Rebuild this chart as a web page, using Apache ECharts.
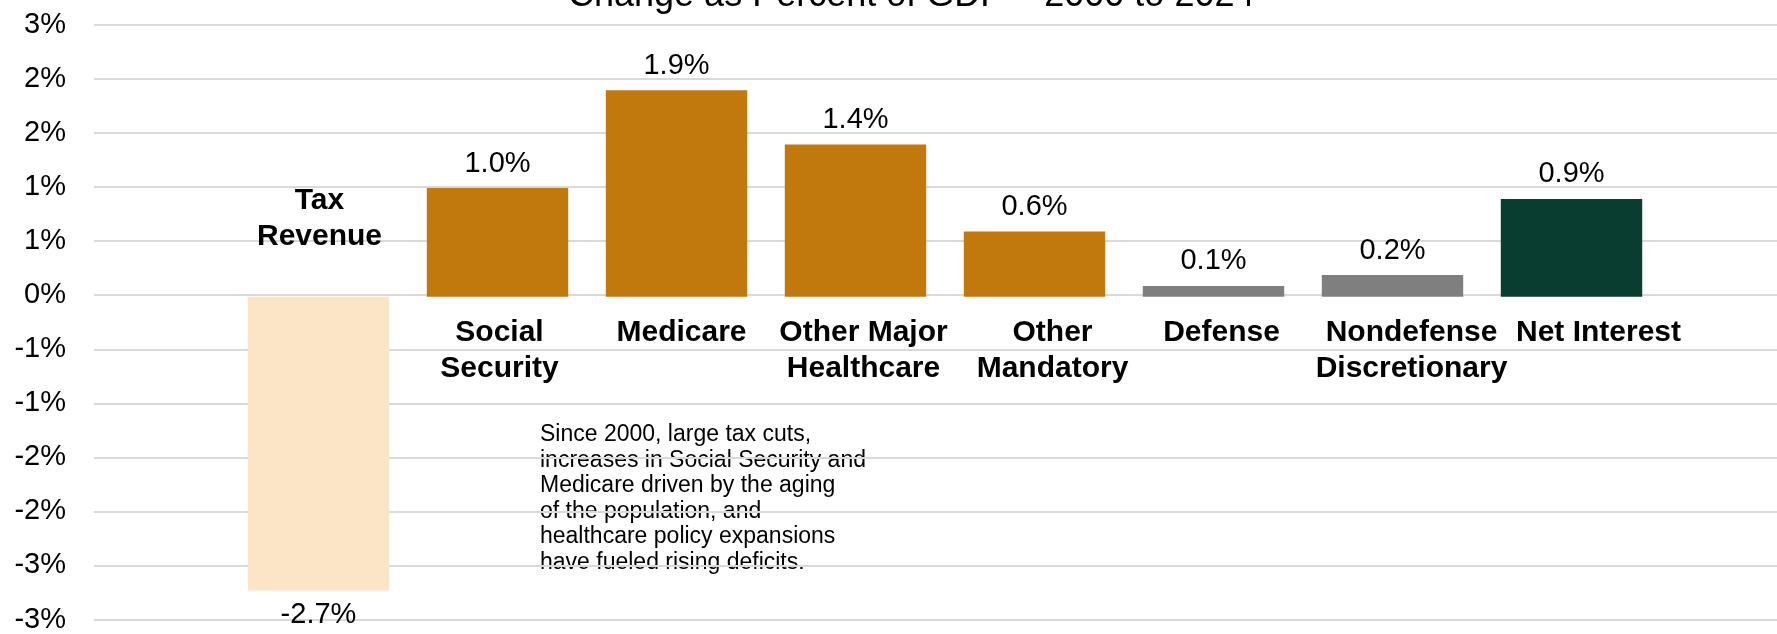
<!DOCTYPE html>
<html>
<head>
<meta charset="utf-8">
<script src="https://cdn.jsdelivr.net/npm/echarts@6/dist/echarts.min.js"></script>
<style>
  html, body { margin: 0; padding: 0; background: #ffffff; }
  #chart { width: 1777px; height: 634px; }
</style>
</head>
<body>
<div id="chart"></div>
<script>
// Budget components: change as percent of GDP, 2000 to 2024
const categories = ['Tax\nRevenue', 'Social\nSecurity', 'Medicare', 'Other Major\nHealthcare',
  'Other\nMandatory', 'Defense', 'Nondefense\nDiscretionary', 'Net Interest'];
const changePct = [-2.7, 1.0, 1.9, 1.4, 0.6, 0.1, 0.2, 0.9];
const barColors = ['#FCE4C6', '#C1780C', '#C1780C', '#C1780C', '#C1780C', '#7F7F7F', '#7F7F7F', '#093D30'];
const yMin = -3, yMax = 2.5, yStep = 0.5;
const titleText = 'Change as Percent of GDP \u2013 2000 to 2024';
const noteText = 'Since 2000, large tax cuts,\nincreases in Social Security and\nMedicare driven by the aging\nof the population, and\nhealthcare policy expansions\nhave fueled rising deficits.';

const FONT = "'Liberation Sans', Arial, sans-serif";
// small horizontal nudges (px) for the category name labels
const nameNudge = [1, 2, 5, 8, 18, 8, 19, 27];

// Whole-percent tick labels, halves rounded away from zero
function pctTick(v) {
  const r = Math.round(Math.abs(v));
  return (v < 0 && r !== 0 ? '-' : '') + r + '%';
}

const chart = echarts.init(document.getElementById('chart'), null, { renderer: 'canvas' });

chart.setOption({
  backgroundColor: '#ffffff',
  animation: false,
  title: {
    text: titleText,
    left: 563,
    top: -27,
    textStyle: { fontFamily: FONT, fontSize: 36, fontWeight: 'normal', color: '#000000' }
  },
  grid: [
    // full-width grid carrying the gridlines and percent labels
    { left: 94, right: 0, top: 25, bottom: 11 },
    // grid holding the bars
    { left: 229, right: 116, top: 25, bottom: 11 }
  ],
  xAxis: [
    { gridIndex: 0, type: 'value', show: false, min: 0, max: 1 },
    {
      gridIndex: 1, type: 'category', data: categories,
      axisLine: { show: false }, axisTick: { show: false }, axisLabel: { show: false }
    }
  ],
  yAxis: [
    {
      gridIndex: 0, type: 'value', min: yMin, max: yMax, interval: yStep,
      axisLine: { show: false }, axisTick: { show: false },
      axisLabel: {
        formatter: pctTick, margin: 28,
        fontFamily: FONT, fontSize: 29, color: '#000000'
      },
      splitLine: { lineStyle: { color: '#d9d9d9', width: 2 } }
    },
    {
      gridIndex: 1, type: 'value', min: yMin, max: yMax, interval: yStep,
      show: false, splitLine: { show: false }
    }
  ],
  graphic: [
    {
      type: 'text',
      left: 540,
      top: 422,
      style: {
        text: noteText,
        font: '23px ' + FONT,
        lineHeight: 25.5,
        fill: '#000000'
      }
    }
  ],
  series: [
    {
      type: 'bar',
      xAxisIndex: 1, yAxisIndex: 1,
      barCategoryGap: '21%',
      data: changePct.map((v, i) => ({ value: v, itemStyle: { color: barColors[i] } })),
      label: {
        show: true,
        position: 'outside',
        distance: 10,
        formatter: p => p.value.toFixed(1) + '%',
        fontFamily: FONT, fontSize: 29, color: '#000000'
      }
    },
    {
      // category names sitting on the zero line, on the side away from each bar
      type: 'scatter',
      xAxisIndex: 1, yAxisIndex: 1,
      symbolSize: 1,
      itemStyle: { color: 'rgba(255,255,255,0)' },
      silent: true,
      data: categories.map((c, i) => ({
        value: [i, 0],
        label: {
          position: changePct[i] < 0 ? 'top' : 'bottom',
          distance: changePct[i] < 0 ? 42 : 17,
          offset: [nameNudge[i], 0]
        }
      })),
      label: {
        show: true,
        formatter: p => categories[p.dataIndex],
        fontFamily: FONT, fontSize: 30, fontWeight: 'bold', lineHeight: 36,
        color: '#000000', opacity: 1, textBorderWidth: 0, align: 'center'
      }
    }
  ]
});
</script>
</body>
</html>
